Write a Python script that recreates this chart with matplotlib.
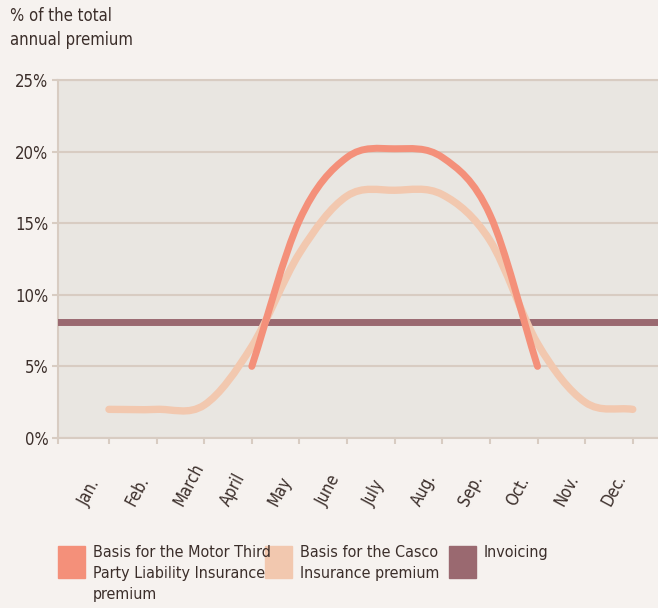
import numpy as np
import matplotlib
matplotlib.use("Agg")
import matplotlib.pyplot as plt
from matplotlib import font_manager as fm
from matplotlib.path import Path
from matplotlib.patches import PathPatch, Rectangle
from matplotlib.transforms import ScaledTranslation

# pick a narrow face if one is around
cond = [f for f in fm.fontManager.ttflist
        if f.name == 'DejaVu Sans' and 'condensed' in str(f.stretch)
        and f.style == 'normal']
if cond:
    plt.rcParams['font.family'] = ['DejaVu Sans']
    plt.rcParams['font.stretch'] = 'condensed'
else:
    plt.rcParams['font.family'] = ['Roboto', 'DejaVu Sans']

months = ["Jan.", "Feb.", "March", "April", "May", "June", "July",
          "Aug.", "Sep.", "Oct.", "Nov.", "Dec."]
# % of total annual premium per month
casco = [2.0, 2.0, 2.3, 6.4, 12.9, 16.9, 17.3, 17.0, 13.8, 6.6, 2.5, 2.0]
motor_months = ["April", "May", "June", "July", "Aug.", "Sep.", "Oct."]
motor = [5.0, 15.2, 19.6, 20.2, 19.6, 15.6, 5.0]
invoicing = 8.1

legend_labels = ["Basis for the Motor Third\nParty Liability Insurance\npremium",
                 "Basis for the Casco\nInsurance premium",
                 "Invoicing"]

c_motor = "#F4907A"
c_casco = "#F2C8AF"
c_inv = "#9A6970"
c_grid = "#D8CCC2"
c_text = "#3B2E2A"
bg = "#F6F2EF"
ax_bg = "#E9E6E1"


def smooth_path(xs, ys):
    # catmull-rom style bezier through the data points
    xs = np.asarray(xs, float)
    ys = np.asarray(ys, float)
    n = len(xs)
    m = np.zeros(n)
    for i in range(n):
        if i == 0:
            m[i] = ys[1] - ys[0]
        elif i == n - 1:
            m[i] = ys[-1] - ys[-2]
        else:
            m[i] = (ys[i + 1] - ys[i - 1]) / 2
    verts = [(xs[0], ys[0])]
    codes = [Path.MOVETO]
    for i in range(n - 1):
        verts += [(xs[i] + 1 / 3, ys[i] + m[i] / 3),
                  (xs[i + 1] - 1 / 3, ys[i + 1] - m[i + 1] / 3),
                  (xs[i + 1], ys[i + 1])]
        codes += [Path.CURVE4] * 3
    return Path(verts, codes)


fig = plt.figure(figsize=(6.58, 6.08), dpi=100, facecolor=bg)
ax = fig.add_axes([58 / 658, 170 / 608, 600 / 658, 358 / 608])
ax.set_facecolor(ax_bg)

x_casco = np.arange(len(months))
x_motor = [months.index(m) for m in motor_months]

ax.axhline(invoicing, color=c_inv, lw=5, zorder=3)
ax.add_patch(PathPatch(smooth_path(x_casco, casco), fill=False, ec=c_casco,
                       lw=5.3, capstyle='round', zorder=4))
ax.add_patch(PathPatch(smooth_path(x_motor, motor), fill=False, ec=c_motor,
                       lw=5.0, capstyle='round', zorder=5))

ax.set_xlim(-1.07, 11.53)
ax.set_ylim(0, 25)
ax.set_yticks([0, 5, 10, 15, 20, 25])
ax.set_yticklabels([f"{v}%" for v in [0, 5, 10, 15, 20, 25]])
ax.yaxis.grid(True, color=c_grid, lw=1.5)
ax.set_axisbelow(True)

ax.set_xticks(x_casco)
ax.set_xticklabels(months, rotation=62, ha='left', va='baseline',
                   rotation_mode='anchor')
ax.set_xticks([-1.07], minor=True)
ax.tick_params(axis='x', which='both', length=4, width=1.5, color=c_grid,
               pad=46, labelsize=12, labelcolor=c_text)
ax.tick_params(axis='y', length=4, width=1.5, color=c_grid, pad=3,
               labelsize=12, labelcolor=c_text)
off = ScaledTranslation(-22 / 100, 0, fig.dpi_scale_trans)
for lab in ax.get_xticklabels():
    lab.set_transform(lab.get_transform() + off)

for s in ['left', 'bottom', 'top']:
    ax.spines[s].set_color(c_grid)
    ax.spines[s].set_linewidth(1.5)
ax.spines['right'].set_visible(False)

fig.text(10 / 658, 1 - 7 / 608, "% of the total\nannual premium", ha='left',
         va='top', fontsize=12, color=c_text, linespacing=1.4)

# legend
leg_x = [58, 265, 449]
for x0, col, lab in zip(leg_x, [c_motor, c_casco, c_inv], legend_labels):
    fig.patches.append(Rectangle((x0 / 658, 1 - 578 / 608), 27 / 658, 32 / 608,
                                 transform=fig.transFigure, color=col))
    fig.text((x0 + 35) / 658, 1 - 545 / 608, lab, ha='left', va='top',
             fontsize=11.5, color=c_text, linespacing=1.5)

fig.savefig("out.png", dpi=100, facecolor=bg)
